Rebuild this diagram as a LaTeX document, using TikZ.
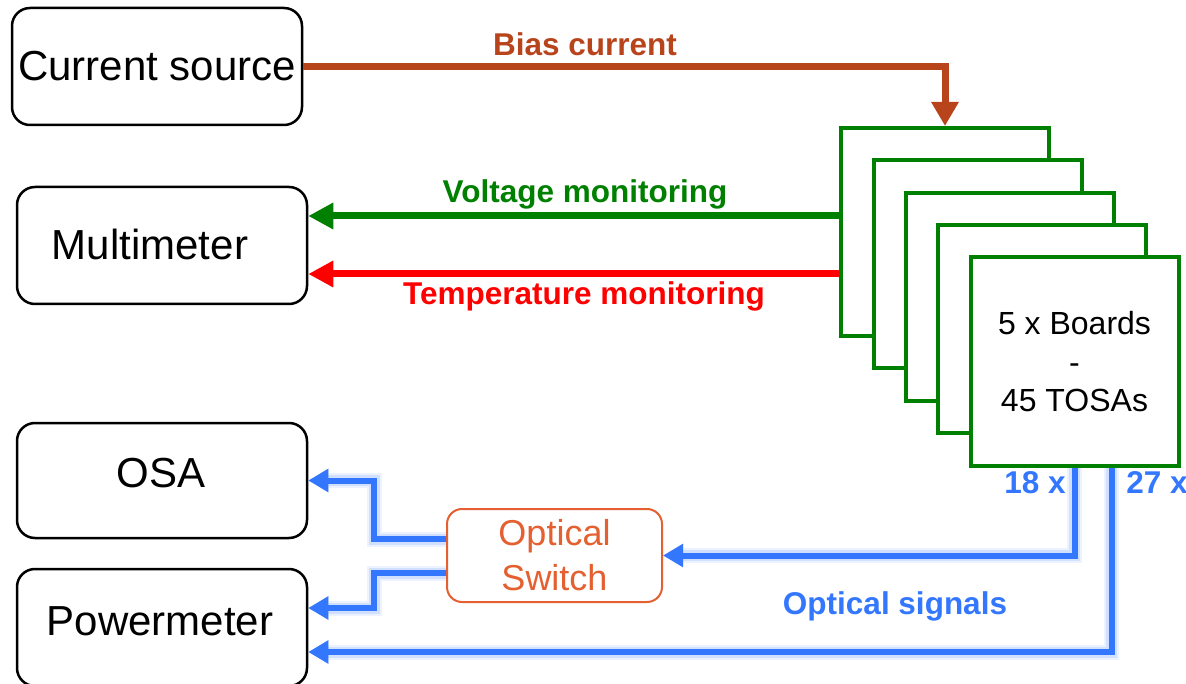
\documentclass[tikz,border=0pt]{standalone}
\usepackage{fontspec}
\setmainfont{Liberation Sans}
\usetikzlibrary{arrows.meta}
\definecolor{biasc}{RGB}{184,68,28}
\definecolor{voltc}{RGB}{0,128,0}
\definecolor{tempc}{RGB}{255,0,0}
\definecolor{optc}{RGB}{51,119,255}
\definecolor{glowc}{RGB}{130,170,255}
\definecolor{swc}{RGB}{228,96,48}
\begin{document}
\begin{tikzpicture}[x=1pt,y=-1pt,
  dev/.style={draw=black, line width=2.5pt, rounded corners=18pt, fill=white, minimum width=290pt, inner sep=0pt},
  devtext/.style={font=\fontsize{42}{50}\selectfont, anchor=base, inner sep=0pt},
  board/.style={draw=voltc, line width=4pt, fill=white, minimum width=208pt, minimum height=208pt, inner sep=0pt},
  lbl/.style={font=\bfseries\fontsize{31.5}{36}\selectfont, anchor=base, inner sep=0pt},
  biasline/.style={draw=biasc, line width=7pt, -{Triangle[length=24pt,width=26pt]}},
  monline/.style={line width=7pt, -{Triangle[length=25pt,width=25pt]}},
  optline/.style={draw=optc, line width=6pt, -{Triangle[length=20pt,width=22pt]},
     preaction={draw=glowc, line width=15pt, opacity=0.15, -{Triangle[length=20pt,width=22pt]}},
     preaction={draw=glowc, line width=11pt, opacity=0.25, -{Triangle[length=20pt,width=22pt]}}},
  swbox/.style={draw=swc, line width=2pt, rounded corners=15pt, fill=white, minimum width=215pt, minimum height=93pt, text=swc, align=center, font=\fontsize{36}{45}\selectfont, inner sep=0pt}
]
\useasboundingbox (0,0) rectangle (1186,684);

% devices
\node[dev, minimum height=117pt] (cs) at (157,66.5) {};
\node[devtext] (csT) at (157,81) {Current source};
\node[dev, minimum height=117pt] (mm) at (162,245.5) {};
\node[devtext] (mmT) at (150,260) {Multimeter};
\node[dev, minimum height=115pt] (osa) at (162,480.5) {};
\node[devtext] (osaT) at (161,487) {OSA};
\node[dev, minimum height=117pt] (pm) at (162,627.5) {};
\node[devtext] (pmT) at (160,635) {Powermeter};

% boards
\node[board] (b1) at (945,232) {};
\node[board] (b2) at (977.5,264.5) {};
\node[board] (b3) at (1010,297) {};
\node[board] (b4) at (1042,329) {};
\node[board] (b5) at (1074.5,361.5) {};
\node[align=center, font=\fontsize{32}{38.5}\selectfont, inner sep=0pt] (b5T) at (1074.5,362) {5 x Boards\\-\\45 TOSAs};

% optical switch
\node[swbox] (sw) at (554.5,555.5) {Optical\\Switch};

% bias current
\draw[biasline] (cs.east) -| (b1.north);
\node[lbl, text=biasc] (biasL) at (585,56) {Bias current};

% monitoring
\coordinate (vstart) at ([yshift=16pt]b1.west);
\coordinate (tstart) at ([yshift=-42pt]b1.west);
\draw[monline, draw=voltc] (vstart) -- (vstart -| mm.east);
\draw[monline, draw=tempc] (tstart) -- (tstart -| mm.east);
\node[lbl, text=voltc] (voltL) at (585,203) {Voltage monitoring};
\node[lbl, text=tempc] (tempL) at (584,305) {Temperature monitoring};

% optical signals
\draw[optline] (b5.south) |- (sw.east);
\draw[optline] ([xshift=37pt]b5.south) |- ([yshift=-24.5pt]pm.east);
\draw[optline] ([yshift=16.5pt]sw.west) -- ++(-72,0) |- (osa.east);
\draw[optline] ([yshift=-17.5pt]sw.west) -- ++(-72,0) |- ([yshift=19.5pt]pm.east);
\node[lbl, text=optc] (n18) at (1035,493) {18 x};
\node[lbl, text=optc] (n27) at (1157,493) {27 x};
\node[lbl, text=optc] (optL) at (895,614) {Optical signals};
\end{tikzpicture}
\end{document}
